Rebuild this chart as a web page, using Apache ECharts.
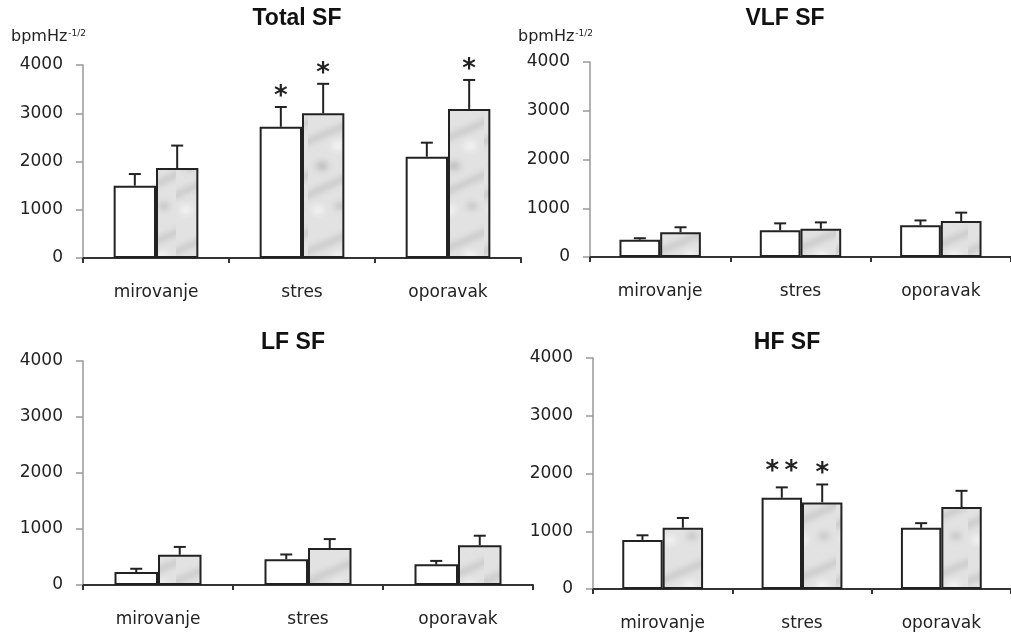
<!DOCTYPE html>
<html>
<head>
<meta charset="utf-8">
<script src="https://cdn.jsdelivr.net/npm/echarts@6/dist/echarts.min.js"></script>
<style>
  html, body { margin: 0; padding: 0; background: #fff; }
  #chart { width: 1011px; height: 635px; }
</style>
</head>
<body>
<div id="chart"></div>
<script>
const categories = ['mirovanje', 'stres', 'oporavak'];
const yTicks = [0, 1000, 2000, 3000, 4000];

// white bars (group 1) and gray bars (group 2): mean, top of error bar, number of stars
const totalWhite = [1500, 2720, 2100];
const totalWhiteErr = [1740, 3130, 2390];
const totalWhiteSig = [0, 1, 0];
const totalGray = [1865, 3000, 3090];
const totalGrayErr = [2330, 3610, 3690];
const totalGraySig = [0, 1, 1];

const vlfWhite = [355, 550, 650];
const vlfWhiteErr = [385, 690, 750];
const vlfWhiteSig = [0, 0, 0];
const vlfGray = [510, 580, 740];
const vlfGrayErr = [610, 710, 910];
const vlfGraySig = [0, 0, 0];

const lfWhite = [230, 460, 370];
const lfWhiteErr = [290, 545, 430];
const lfWhiteSig = [0, 0, 0];
const lfGray = [540, 660, 710];
const lfGrayErr = [680, 820, 880];
const lfGraySig = [0, 0, 0];

const hfWhite = [850, 1580, 1060];
const hfWhiteErr = [930, 1760, 1140];
const hfWhiteSig = [0, 2, 0];
const hfGray = [1060, 1500, 1420];
const hfGrayErr = [1230, 1810, 1700];
const hfGraySig = [0, 1, 0];

// panel layout (pixels)
const panels = [
  {title: 'Total SF', unit: true, left: 83, top: 65, width: 438, height: 193, titleX: 297, titleY: 19,
    white: totalWhite, whiteErr: totalWhiteErr, whiteSig: totalWhiteSig,
    gray: totalGray, grayErr: totalGrayErr, graySig: totalGraySig},
  {title: 'VLF SF', unit: true, left: 590, top: 62, width: 432, height: 195, titleX: 785, titleY: 19,
    white: vlfWhite, whiteErr: vlfWhiteErr, whiteSig: vlfWhiteSig,
    gray: vlfGray, grayErr: vlfGrayErr, graySig: vlfGraySig},
  {title: 'LF SF', unit: false, left: 83, top: 361, width: 450, height: 224, titleX: 293, titleY: 343,
    white: lfWhite, whiteErr: lfWhiteErr, whiteSig: lfWhiteSig,
    gray: lfGray, grayErr: lfGrayErr, graySig: lfGraySig},
  {title: 'HF SF', unit: false, left: 593, top: 358, width: 429, height: 231, titleX: 787, titleY: 343,
    white: hfWhite, whiteErr: hfWhiteErr, whiteSig: hfWhiteSig,
    gray: hfGray, grayErr: hfGrayErr, graySig: hfGraySig}
];

// marble-like fill for the gray bars
function marble() {
  const c = document.createElement('canvas');
  c.width = 44; c.height = 110;
  const g = c.getContext('2d');
  g.fillStyle = '#e2e2e2';
  g.fillRect(0, 0, 44, 110);
  g.filter = 'blur(3px)';
  g.strokeStyle = 'rgba(140,140,140,0.45)';
  g.lineWidth = 4;
  g.beginPath(); g.moveTo(-6, 34); g.lineTo(50, 10); g.stroke();
  g.beginPath(); g.moveTo(-6, 88); g.lineTo(50, 62); g.stroke();
  g.fillStyle = 'rgba(130,130,130,0.45)';
  g.beginPath(); g.ellipse(14, 56, 6, 4, 0, 0, Math.PI * 2); g.fill();
  g.beginPath(); g.ellipse(32, 96, 5, 3, 0, 0, Math.PI * 2); g.fill();
  g.fillStyle = 'rgba(255,255,255,0.6)';
  g.beginPath(); g.ellipse(30, 36, 7, 5, 0, 0, Math.PI * 2); g.fill();
  g.beginPath(); g.ellipse(10, 100, 6, 5, 0, 0, Math.PI * 2); g.fill();
  return c;
}
const grayFill = {image: marble(), repeat: 'repeat'};

function errRender(params, api) {
  const cat = api.value(0);
  const side = api.value(3);
  const stars = api.value(4);
  const base = api.coord([cat, api.value(1)]);
  const top = api.coord([cat, api.value(2)]);
  const bw = api.size([1, 0])[0] * 0.58 / 2;
  const x = base[0] + (side ? bw / 2 : -bw / 2);
  const kids = [
    {type: 'line', shape: {x1: x, y1: base[1], x2: x, y2: top[1]}, style: {stroke: '#222', lineWidth: 2}},
    {type: 'line', shape: {x1: x - 6, y1: top[1], x2: x + 6, y2: top[1]}, style: {stroke: '#222', lineWidth: 2}}
  ];
  if (stars > 0) {
    kids.push({
      type: 'text', x: x, y: top[1] + 3 - (stars - 1) * 5,
      style: {text: '*'.repeat(stars).split('').join('\u2009'), fontSize: 26, fontWeight: 'bold',
        fontFamily: 'DejaVu Sans', fill: '#222', align: 'center', verticalAlign: 'bottom'}
    });
  }
  return {type: 'group', children: kids};
}

const grid = [], xAxis = [], yAxis = [], series = [], graphic = [];
panels.forEach((p, i) => {
  grid.push({left: p.left, top: p.top, width: p.width, height: p.height});
  xAxis.push({
    type: 'category', gridIndex: i, data: categories,
    axisLine: {lineStyle: {color: '#333', width: 2}},
    axisTick: {show: true, length: 5, lineStyle: {color: '#333', width: 2}},
    axisLabel: {color: '#222', fontSize: 17, fontFamily: 'DejaVu Sans', margin: 26}
  });
  yAxis.push({
    type: 'value', gridIndex: i, min: 0, max: 4000, interval: 1000,
    splitLine: {show: false},
    axisLine: {show: true, lineStyle: {color: '#999', width: 1.5}},
    axisTick: {show: true, length: 7, lineStyle: {color: '#999', width: 1.5}},
    axisLabel: {color: '#222', fontSize: 17, fontFamily: 'DejaVu Sans', margin: 20,
      formatter: v => yTicks.indexOf(v) >= 0 ? String(v) : ''}
  });
  series.push({
    type: 'bar', xAxisIndex: i, yAxisIndex: i, data: p.white,
    barGap: '0%', barCategoryGap: '42%',
    itemStyle: {color: '#fff', borderColor: '#222', borderWidth: 2}
  });
  series.push({
    type: 'bar', xAxisIndex: i, yAxisIndex: i, data: p.gray,
    barGap: '0%', barCategoryGap: '42%',
    itemStyle: {color: grayFill, borderColor: '#222', borderWidth: 2}
  });
  const errData = [];
  categories.forEach((c, k) => {
    errData.push([k, p.white[k], p.whiteErr[k], 0, p.whiteSig[k]]);
    errData.push([k, p.gray[k], p.grayErr[k], 1, p.graySig[k]]);
  });
  series.push({
    type: 'custom', xAxisIndex: i, yAxisIndex: i, data: errData,
    renderItem: errRender, z: 5, clip: false
  });
  graphic.push({
    type: 'text', x: p.titleX, y: p.titleY,
    style: {text: p.title, fontSize: 23, fontWeight: 'bold', fontFamily: 'Liberation Sans',
      fill: '#111', align: 'center', verticalAlign: 'middle'}
  });
  if (p.unit) {
    graphic.push({
      type: 'text', x: p.left - 72, y: 29,
      style: {
        text: '{a|bpmHz}{b|-1/2}',
        rich: {
          a: {fontSize: 16, fontFamily: 'DejaVu Sans', fill: '#222'},
          b: {fontSize: 9, fontFamily: 'DejaVu Sans', fill: '#222', verticalAlign: 'top', padding: [0, 0, 4, 1]}
        }
      }
    });
  }
});

const chart = echarts.init(document.getElementById('chart'));
chart.setOption({
  animation: false,
  backgroundColor: '#fff',
  grid: grid,
  xAxis: xAxis,
  yAxis: yAxis,
  series: series,
  graphic: graphic
});
</script>
</body>
</html>
